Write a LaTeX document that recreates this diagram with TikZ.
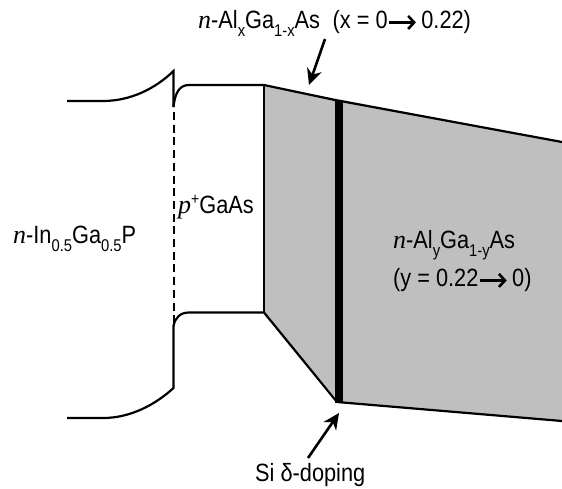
\documentclass[tikz,border=0pt]{standalone}
\usepackage{fontspec}
\setmainfont[FakeStretch=0.87]{Liberation Sans}
\newfontfamily\serifital[ItalicFont={Liberation Serif Italic}]{Liberation Serif}
\usetikzlibrary{positioning, arrows.meta, calc}
\newcommand{\labelfont}{\fontsize{25}{28}\selectfont}
\newcommand{\ital}[1]{{\serifital\itshape\fontsize{26}{27}\selectfont #1}}
\newcommand{\subs}[1]{\raisebox{-8pt}{\fontsize{17}{17}\selectfont #1}}
\newcommand{\supr}[1]{\raisebox{9pt}{\fontsize{16}{16}\selectfont #1}}
\newcommand{\longto}{\tikz[baseline=-0.42ex]\draw[line width=2.6pt, -{Straight Barb[length=6pt,width=13pt,line width=2.6pt]}] (0,0) -- (27pt,0);}
\begin{document}
\begin{tikzpicture}[x=1pt, y=-1pt]
	\tikzset{
		band/.style={line width=2.2pt, black},
		label/.style={inner sep=0pt, font=\labelfont, align=center},
		pointer/.style={line width=2.6pt, -{Stealth[length=16pt,width=15pt,inset=5pt]}}
	}
	\useasboundingbox (0,0) rectangle (562,488);
	
	% graded region
	\fill[black!25] (264,85) -- (562,142) -- (562,421) -- (340,403) -- (264,312) -- cycle;
	\fill[black] (335,100) rectangle (343,403);
	\draw[line width=1.4pt] (264,85) -- (264,312);
	
	% conduction band
	\draw[band] (67,101) -- (103,101) .. controls (130,101) and (155,89) .. (173.5,71) -- (173.5,107);
	\draw[band] (173.5,107) .. controls (175,92) and (180,85) .. (189,85) -- (264,85) -- (335,100) -- (562,142);
	
	% valence band
	\draw[band] (67,418) -- (103,418) .. controls (130,418) and (155,405) .. (173.5,388) -- (173.5,326);
	\draw[band] (173.5,326) .. controls (175,318) and (180,312.5) .. (189,312.5) -- (264,312.5) -- (337,402) -- (562,421);
	
	% interface
	\foreach \y in {0,...,16} {
		\fill[black] (172.5,{112+12.7*\y}) rectangle (174.5,{120+12.7*\y});
	}
	
	\node[label, anchor=base west] (algaasx) at (198,28) {\ital{n}-Al\subs{x}Ga\subs{1-x}As\hspace{0.5em}(x = 0\longto\,0.22)};
	\node[label, anchor=base west] (ingap) at (13,243) {\ital{n}-In\subs{0.5}Ga\subs{0.5}P};
	\node[label, anchor=base west] (gaas) at (178,213) {\ital{p}\supr{+}GaAs};
	\node[label, anchor=base west] (algaasy) at (393,248) {\ital{n}-Al\subs{y}Ga\subs{1-y}As};
	\node[label, anchor=base west] (grading) at (393,286) {(y = 0.22\longto\,0)};
	\node[label, anchor=base west] (doping) at (255,481) {Si δ-doping};
	
	\coordinate (topedge) at (309,85);
	\coordinate (topstart) at (325,39);
	\coordinate (botedge) at (339,413);
	\coordinate (botstart) at (308,458);
	\draw[pointer] (topstart) -- (topedge);
	\draw[pointer] (botstart) -- (botedge);
\end{tikzpicture}
\end{document}
